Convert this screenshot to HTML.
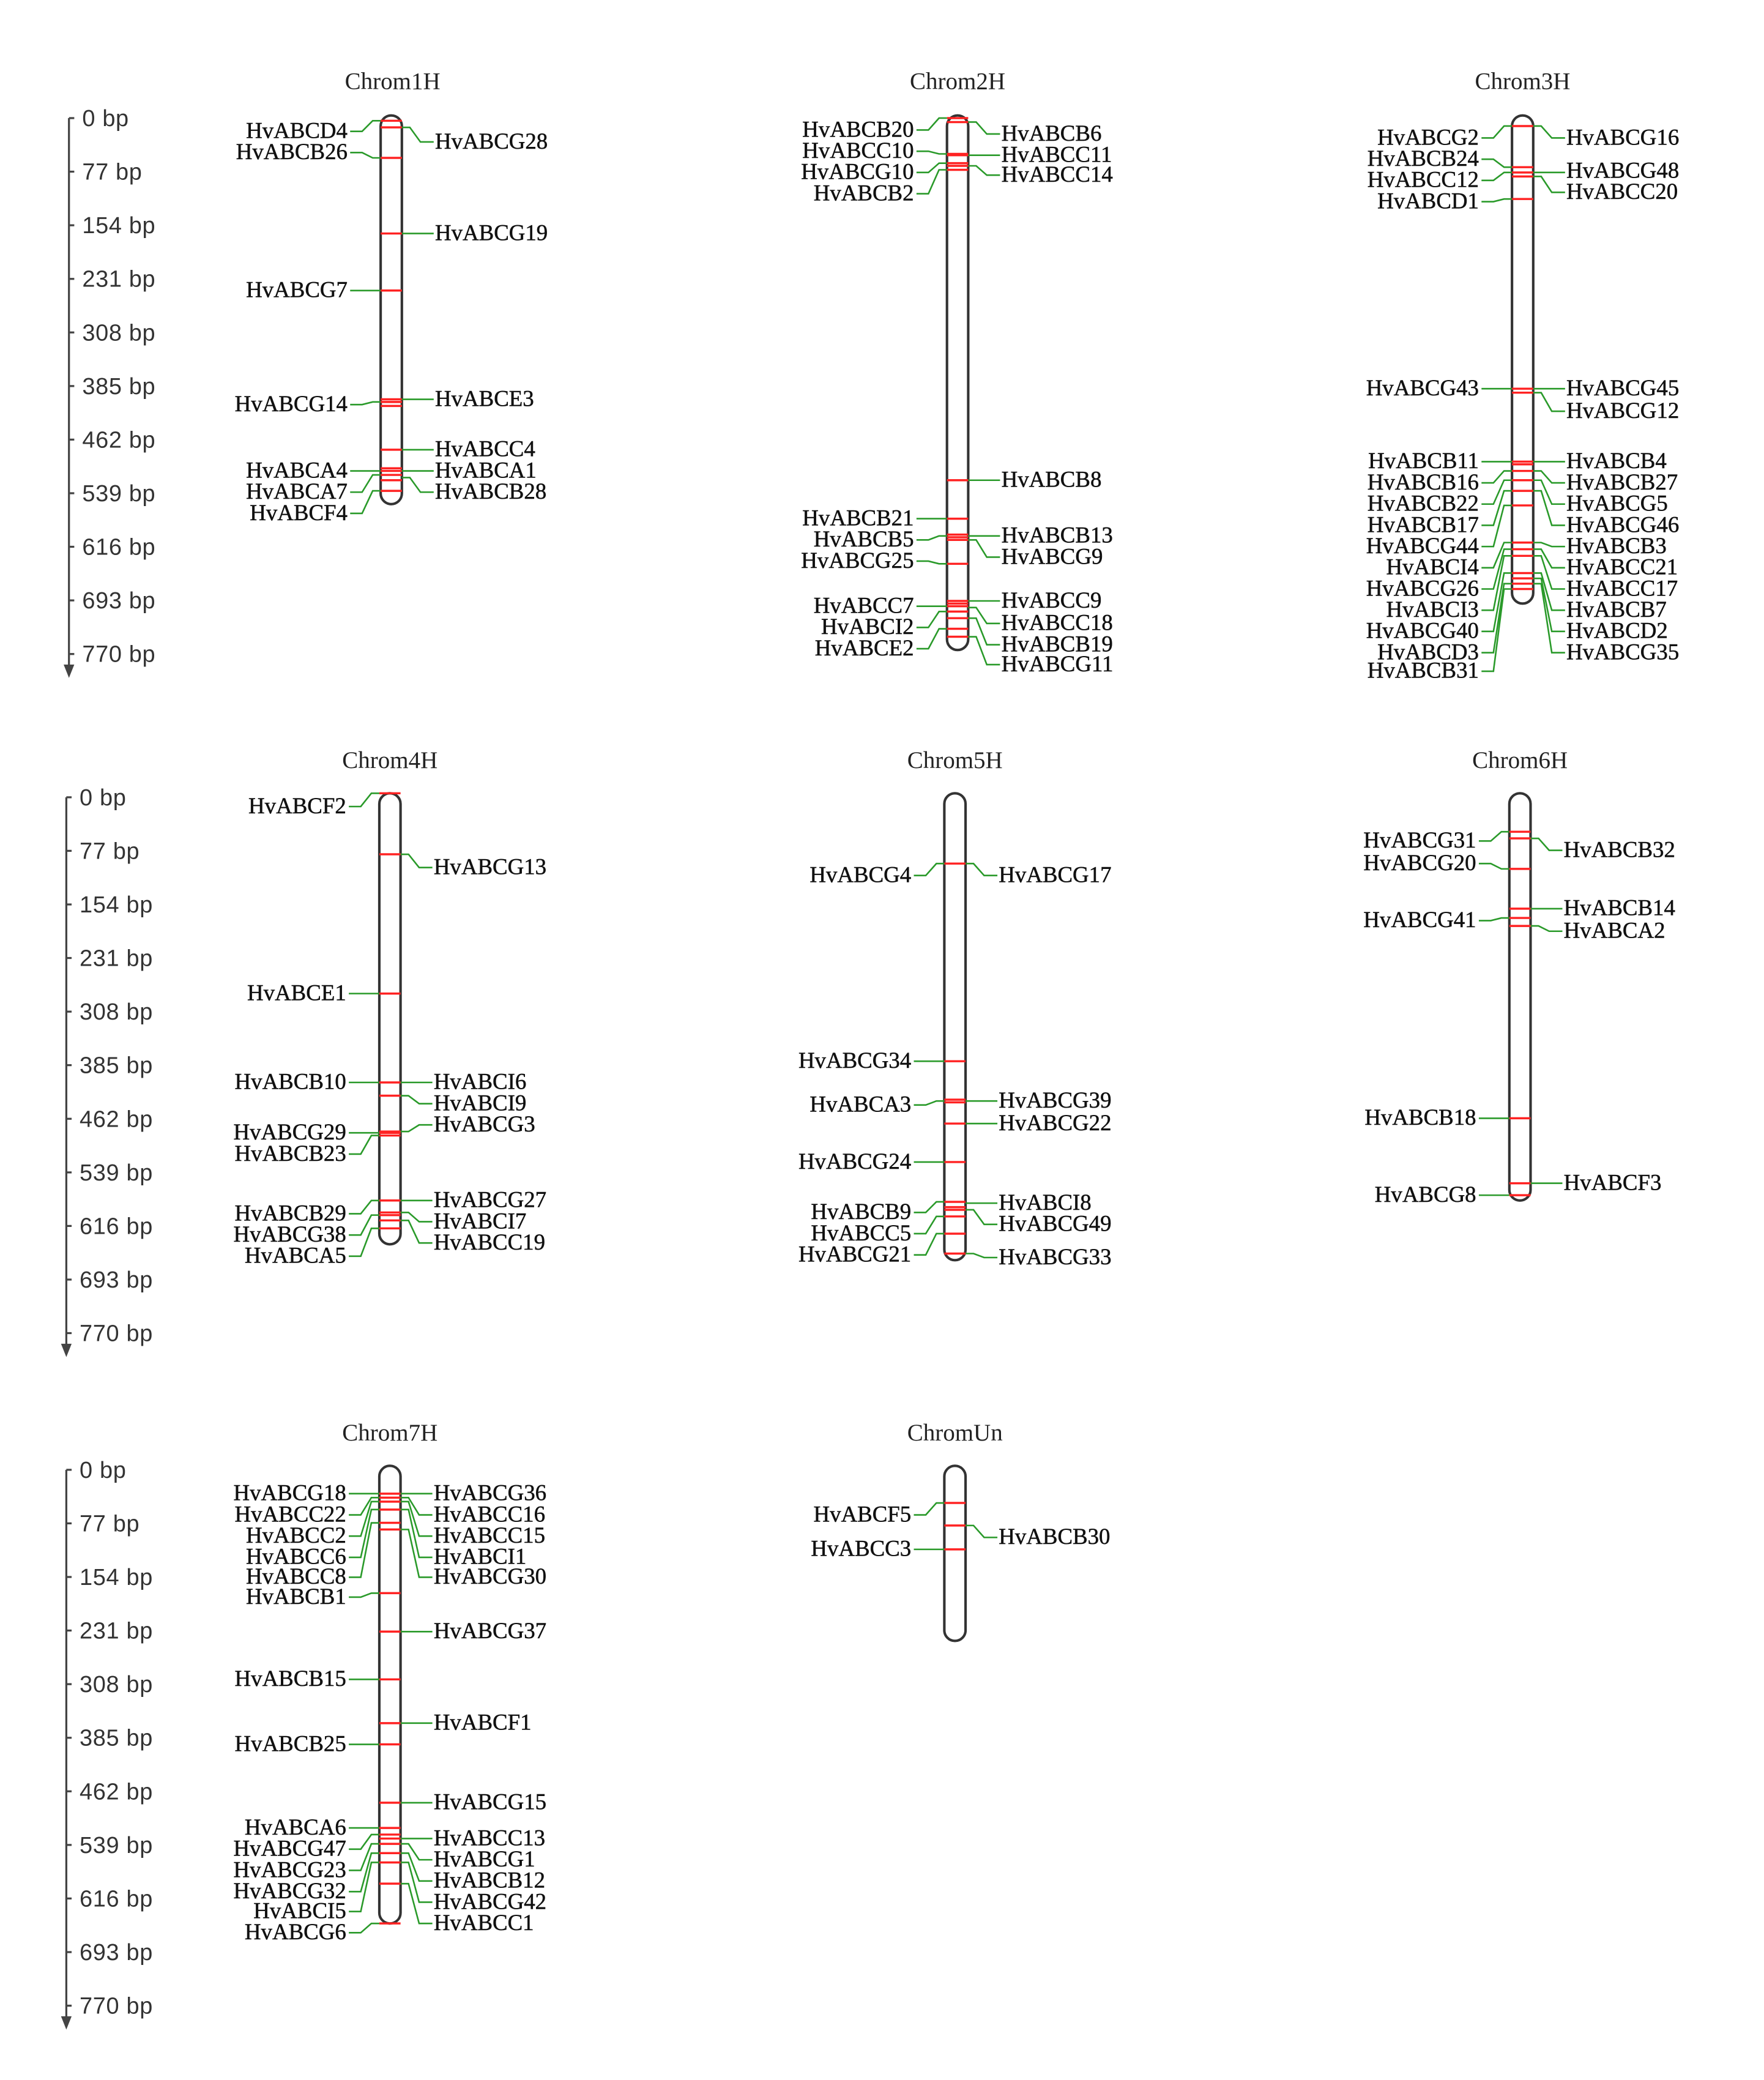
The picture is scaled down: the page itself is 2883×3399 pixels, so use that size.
<!DOCTYPE html>
<html><head><meta charset="utf-8"><style>
html,body{margin:0;padding:0;background:#fff;}
svg{display:block}
.t{font-family:"Liberation Serif",serif;font-size:17px;fill:#111;letter-spacing:0px;stroke:#111;stroke-width:0.25}
.l{text-anchor:end}
.h{font-family:"Liberation Serif",serif;font-size:18px;fill:#222;text-anchor:middle}
.a{font-family:"Liberation Sans",sans-serif;font-size:17.5px;fill:#333;letter-spacing:0.3px}
.c{fill:#fff;stroke:#333;stroke-width:1.9}
.m{stroke:#f22;stroke-width:1.6}
.g{fill:none;stroke:#2a9a2a;stroke-width:1.2}
.x{stroke:#444;stroke-width:1.5;fill:none}
</style></head><body>
<svg width="2883" height="3399" viewBox="0 0 1330 1568" xmlns="http://www.w3.org/2000/svg">
<defs>
<g id="axis">
<path class="x" d="M52,0 V420 M52,0 H56 M52,40.4 H56 M52,80.8 H56 M52,121.2 H56 M52,161.6 H56 M52,202 H56 M52,242.4 H56 M52,282.8 H56 M52,323.2 H56 M52,363.6 H56 M52,404 H56"/>
<path d="M48,412 L52,422 L56,412 Z" fill="#444"/>
<text class="a" x="62" y="6">0 bp</text>
<text class="a" x="62" y="46.4">77 bp</text>
<text class="a" x="62" y="86.8">154 bp</text>
<text class="a" x="62" y="127.2">231 bp</text>
<text class="a" x="62" y="167.6">308 bp</text>
<text class="a" x="62" y="208">385 bp</text>
<text class="a" x="62" y="248.4">462 bp</text>
<text class="a" x="62" y="288.8">539 bp</text>
<text class="a" x="62" y="329.2">616 bp</text>
<text class="a" x="62" y="369.6">693 bp</text>
<text class="a" x="62" y="410">770 bp</text>
</g>
</defs>
<use href="#axis" transform="translate(0,89)"/>
<use href="#axis" transform="translate(-2,601)"/>
<use href="#axis" transform="translate(-2,1108)"/>

<text class="h" x="296" y="67">Chrom1H</text>
<text class="h" x="722" y="67">Chrom2H</text>
<text class="h" x="1148" y="67">Chrom3H</text>
<text class="h" x="294" y="579">Chrom4H</text>
<text class="h" x="720" y="579">Chrom5H</text>
<text class="h" x="1146" y="579">Chrom6H</text>
<text class="h" x="294" y="1086">Chrom7H</text>
<text class="h" x="720" y="1086">ChromUn</text>

<!-- Chrom1H -->
<g transform="translate(295,0)">
<rect class="c" x="-8" y="87" width="16" height="293" rx="8"/>
<path class="m" d="M-8,91H8M-8,96H8M-8,119H8M-8,176H8M-8,219H8M-8,301H8M-8,303H8M-8,306H8M-8,339H8M-8,353H8M-8,355H8M-8,358H8M-8,362H8M-8,370H8"/>
<path class="g" d="M-31,99H-22L-14,91H-8M-31,115H-22L-14,119H-8M-31,219H-8M-31,305H-22L-14,303H-8M-31,355H-8M-31,371H-22L-14,358H-8M-31,387H-22L-14,370H-8M8,96H14L22,107H32M8,176H32M8,301H32M8,339H32M8,355H32M8,360H14L22,371H32"/>
<text class="t l" x="-33" y="104">HvABCD4</text><text class="t l" x="-33" y="120">HvABCB26</text><text class="t l" x="-33" y="224">HvABCG7</text><text class="t l" x="-33" y="310">HvABCG14</text><text class="t l" x="-33" y="360">HvABCA4</text><text class="t l" x="-33" y="376">HvABCA7</text><text class="t l" x="-33" y="392">HvABCF4</text>
<text class="t" x="33" y="112">HvABCG28</text><text class="t" x="33" y="181">HvABCG19</text><text class="t" x="33" y="306">HvABCE3</text><text class="t" x="33" y="344">HvABCC4</text><text class="t" x="33" y="360">HvABCA1</text><text class="t" x="33" y="376">HvABCB28</text>
</g>

<!-- Chrom2H -->
<g transform="translate(722,0)">
<rect class="c" x="-8" y="87" width="16" height="403" rx="8"/>
<path class="m" d="M-8,89H8M-8,92H8M-8,116H8M-8,117H8M-8,123H8M-8,125H8M-8,128H8M-8,362H8M-8,391H8M-8,403H8M-8,405H8M-8,407H8M-8,425H8M-8,453H8M-8,455H8M-8,457H8M-8,461H8M-8,466H8M-8,474H8M-8,480H8"/>
<path class="g" d="M-31,98H-22L-14,89H-8M-31,114H-22L-14,116H-8M-31,130H-22L-14,123H-8M-31,146H-22L-14,128H-8M-31,391H-8M-31,407H-22L-14,404H-8M-31,423H-22L-14,425H-8M-31,457H-8M-31,473H-22L-14,461H-8M-31,489H-22L-14,474H-8M8,92H14L22,101H32M8,117H32M8,125H14L22,132H32M8,362H32M8,404H32M8,407H14L22,420H32M8,453H32M8,458H14L22,470H32M8,466H14L22,486H32M8,480H14L22,501H32"/>
<text class="t l" x="-33" y="103">HvABCB20</text><text class="t l" x="-33" y="119">HvABCC10</text><text class="t l" x="-33" y="135">HvABCG10</text><text class="t l" x="-33" y="151">HvABCB2</text><text class="t l" x="-33" y="396">HvABCB21</text><text class="t l" x="-33" y="412">HvABCB5</text><text class="t l" x="-33" y="428">HvABCG25</text><text class="t l" x="-33" y="462">HvABCC7</text><text class="t l" x="-33" y="478">HvABCI2</text><text class="t l" x="-33" y="494">HvABCE2</text>
<text class="t" x="33" y="106">HvABCB6</text><text class="t" x="33" y="122">HvABCC11</text><text class="t" x="33" y="137">HvABCC14</text><text class="t" x="33" y="367">HvABCB8</text><text class="t" x="33" y="409">HvABCB13</text><text class="t" x="33" y="425">HvABCG9</text><text class="t" x="33" y="458">HvABCC9</text><text class="t" x="33" y="475">HvABCC18</text><text class="t" x="33" y="491">HvABCB19</text><text class="t" x="33" y="506">HvABCG11</text>
</g>

<!-- Chrom3H -->
<g transform="translate(1148,0)">
<rect class="c" x="-8" y="87" width="16" height="368" rx="8"/>
<path class="m" d="M-8,95H8M-8,126H8M-8,130H8M-8,133H8M-8,150H8M-8,293H8M-8,296H8M-8,348H8M-8,350H8M-8,355H8M-8,362H8M-8,370H8M-8,381H8M-8,409H8M-8,414H8M-8,419H8M-8,432H8M-8,436H8M-8,440H8M-8,444H8"/>
<path class="g" d="M-31,104H-22L-14,95H-8M-31,120H-22L-14,126H-8M-31,136H-22L-14,130H-8M-31,152H-22L-14,150H-8M-31,293H-8M-31,348H-8M-31,364H-22L-14,355H-8M-31,380H-22L-14,362H-8M-31,396H-22L-14,370H-8M-31,412H-22L-14,381H-8M-31,428H-22L-14,409H-8M-31,444H-22L-14,414H-8M-31,460H-22L-14,419H-8M-31,476H-22L-14,432H-8M-31,492H-22L-14,440H-8M-31,506H-22L-14,444H-8M8,95H14L22,104H32M8,130H32M8,133H14L22,145H32M8,293H32M8,296H14L22,310H32M8,348H32M8,355H14L22,364H32M8,362H14L22,380H32M8,370H14L22,396H32M8,409H14L22,412H32M8,414H14L22,428H32M8,419H14L22,444H32M8,432H14L22,460H32M8,436H14L22,476H32M8,440H14L22,492H32"/>
<text class="t l" x="-33" y="109">HvABCG2</text><text class="t l" x="-33" y="125">HvABCB24</text><text class="t l" x="-33" y="141">HvABCC12</text><text class="t l" x="-33" y="157">HvABCD1</text><text class="t l" x="-33" y="298">HvABCG43</text><text class="t l" x="-33" y="353">HvABCB11</text><text class="t l" x="-33" y="369">HvABCB16</text><text class="t l" x="-33" y="385">HvABCB22</text><text class="t l" x="-33" y="401">HvABCB17</text><text class="t l" x="-33" y="417">HvABCG44</text><text class="t l" x="-33" y="433">HvABCI4</text><text class="t l" x="-33" y="449">HvABCG26</text><text class="t l" x="-33" y="465">HvABCI3</text><text class="t l" x="-33" y="481">HvABCG40</text><text class="t l" x="-33" y="497">HvABCD3</text><text class="t l" x="-33" y="511">HvABCB31</text>
<text class="t" x="33" y="109">HvABCG16</text><text class="t" x="33" y="134">HvABCG48</text><text class="t" x="33" y="150">HvABCC20</text><text class="t" x="33" y="298">HvABCG45</text><text class="t" x="33" y="315">HvABCG12</text><text class="t" x="33" y="353">HvABCB4</text><text class="t" x="33" y="369">HvABCB27</text><text class="t" x="33" y="385">HvABCG5</text><text class="t" x="33" y="401">HvABCG46</text><text class="t" x="33" y="417">HvABCB3</text><text class="t" x="33" y="433">HvABCC21</text><text class="t" x="33" y="449">HvABCC17</text><text class="t" x="33" y="465">HvABCB7</text><text class="t" x="33" y="481">HvABCD2</text><text class="t" x="33" y="497">HvABCG35</text>
</g>

<!-- Chrom4H -->
<g transform="translate(294,0)">
<rect class="c" x="-8" y="598" width="16" height="340" rx="8"/>
<path class="m" d="M-8,598H8M-8,644H8M-8,749H8M-8,816H8M-8,826H8M-8,853H8M-8,854H8M-8,856H8M-8,905H8M-8,914H8M-8,916H8M-8,920H8M-8,926H8"/>
<path class="g" d="M-31,608H-22L-14,598H-8M-31,749H-8M-31,816H-8M-31,854H-8M-31,870H-22L-14,856H-8M-31,915H-22L-14,905H-8M-31,931H-22L-14,916H-8M-31,947H-22L-14,926H-8M8,644H14L22,654H32M8,816H32M8,826H14L22,832H32M8,853H14L22,848H32M8,905H32M8,914H14L22,921H32M8,920H14L22,937H32"/>
<text class="t l" x="-33" y="613">HvABCF2</text><text class="t l" x="-33" y="754">HvABCE1</text><text class="t l" x="-33" y="821">HvABCB10</text><text class="t l" x="-33" y="859">HvABCG29</text><text class="t l" x="-33" y="875">HvABCB23</text><text class="t l" x="-33" y="920">HvABCB29</text><text class="t l" x="-33" y="936">HvABCG38</text><text class="t l" x="-33" y="952">HvABCA5</text>
<text class="t" x="33" y="659">HvABCG13</text><text class="t" x="33" y="821">HvABCI6</text><text class="t" x="33" y="837">HvABCI9</text><text class="t" x="33" y="853">HvABCG3</text><text class="t" x="33" y="910">HvABCG27</text><text class="t" x="33" y="926">HvABCI7</text><text class="t" x="33" y="942">HvABCC19</text>
</g>

<!-- Chrom5H -->
<g transform="translate(720,0)">
<rect class="c" x="-8" y="598" width="16" height="352" rx="8"/>
<path class="m" d="M-8,651H8M-8,800H8M-8,829H8M-8,831H8M-8,847H8M-8,876H8M-8,906H8M-8,910H8M-8,912H8M-8,917H8M-8,930H8M-8,945H8"/>
<path class="g" d="M-31,660H-22L-14,651H-8M-31,800H-8M-31,833H-22L-14,830H-8M-31,876H-8M-31,914H-22L-14,906H-8M-31,930H-22L-14,917H-8M-31,946H-22L-14,930H-8M8,651H14L22,660H32M8,830H32M8,847H32M8,907H32M8,912H14L22,923H32M8,945H14L22,948H32"/>
<text class="t l" x="-33" y="665">HvABCG4</text><text class="t l" x="-33" y="805">HvABCG34</text><text class="t l" x="-33" y="838">HvABCA3</text><text class="t l" x="-33" y="881">HvABCG24</text><text class="t l" x="-33" y="919">HvABCB9</text><text class="t l" x="-33" y="935">HvABCC5</text><text class="t l" x="-33" y="951">HvABCG21</text>
<text class="t" x="33" y="665">HvABCG17</text><text class="t" x="33" y="835">HvABCG39</text><text class="t" x="33" y="852">HvABCG22</text><text class="t" x="33" y="912">HvABCI8</text><text class="t" x="33" y="928">HvABCG49</text><text class="t" x="33" y="953">HvABCG33</text>
</g>

<!-- Chrom6H -->
<g transform="translate(1146,0)">
<rect class="c" x="-8" y="598" width="16" height="307" rx="8"/>
<path class="m" d="M-8,627H8M-8,632H8M-8,655H8M-8,685H8M-8,692H8M-8,698H8M-8,843H8M-8,892H8M-8,901H8"/>
<path class="g" d="M-31,634H-22L-14,627H-8M-31,651H-22L-14,655H-8M-31,694H-22L-14,692H-8M-31,843H-8M-31,901H-8M8,632H14L22,641H32M8,685H32M8,698H14L22,702H32M8,892H32"/>
<text class="t l" x="-33" y="639">HvABCG31</text><text class="t l" x="-33" y="656">HvABCG20</text><text class="t l" x="-33" y="699">HvABCG41</text><text class="t l" x="-33" y="848">HvABCB18</text><text class="t l" x="-33" y="906">HvABCG8</text>
<text class="t" x="33" y="646">HvABCB32</text><text class="t" x="33" y="690">HvABCB14</text><text class="t" x="33" y="707">HvABCA2</text><text class="t" x="33" y="897">HvABCF3</text>
</g>

<!-- Chrom7H -->
<g transform="translate(294,0)">
<rect class="c" x="-8" y="1105" width="16" height="345" rx="8"/>
<path class="m" d="M-8,1126H8M-8,1129H8M-8,1132H8M-8,1138H8M-8,1148H8M-8,1153H8M-8,1201H8M-8,1230H8M-8,1266H8M-8,1299H8M-8,1315H8M-8,1359H8M-8,1378H8M-8,1383H8M-8,1386H8M-8,1390H8M-8,1397H8M-8,1404H8M-8,1420H8M-8,1450H8"/>
<path class="g" d="M-31,1126H-8M-31,1142H-22L-14,1129H-8M-31,1158H-22L-14,1132H-8M-31,1174H-22L-14,1138H-8M-31,1189H-22L-14,1148H-8M-31,1204H-22L-14,1201H-8M-31,1266H-8M-31,1315H-8M-31,1378H-8M-31,1394H-22L-14,1383H-8M-31,1410H-22L-14,1390H-8M-31,1426H-22L-14,1397H-8M-31,1441H-22L-14,1404H-8M-31,1457H-22L-14,1450H-8M8,1126H32M8,1129H14L22,1142H32M8,1132H14L22,1158H32M8,1138H14L22,1174H32M8,1153H14L22,1189H32M8,1230H32M8,1299H32M8,1359H32M8,1386H32M8,1390H14L22,1402H32M8,1397H14L22,1418H32M8,1404H14L22,1434H32M8,1420H14L22,1450H32"/>
<text class="t l" x="-33" y="1131">HvABCG18</text><text class="t l" x="-33" y="1147">HvABCC22</text><text class="t l" x="-33" y="1163">HvABCC2</text><text class="t l" x="-33" y="1179">HvABCC6</text><text class="t l" x="-33" y="1194">HvABCC8</text><text class="t l" x="-33" y="1209">HvABCB1</text><text class="t l" x="-33" y="1271">HvABCB15</text><text class="t l" x="-33" y="1320">HvABCB25</text><text class="t l" x="-33" y="1383">HvABCA6</text><text class="t l" x="-33" y="1399">HvABCG47</text><text class="t l" x="-33" y="1415">HvABCG23</text><text class="t l" x="-33" y="1431">HvABCG32</text><text class="t l" x="-33" y="1446">HvABCI5</text><text class="t l" x="-33" y="1462">HvABCG6</text>
<text class="t" x="33" y="1131">HvABCG36</text><text class="t" x="33" y="1147">HvABCC16</text><text class="t" x="33" y="1163">HvABCC15</text><text class="t" x="33" y="1179">HvABCI1</text><text class="t" x="33" y="1194">HvABCG30</text><text class="t" x="33" y="1235">HvABCG37</text><text class="t" x="33" y="1304">HvABCF1</text><text class="t" x="33" y="1364">HvABCG15</text><text class="t" x="33" y="1391">HvABCC13</text><text class="t" x="33" y="1407">HvABCG1</text><text class="t" x="33" y="1423">HvABCB12</text><text class="t" x="33" y="1439">HvABCG42</text><text class="t" x="33" y="1455">HvABCC1</text>
</g>

<!-- ChromUn -->
<g transform="translate(720,0)">
<rect class="c" x="-8" y="1105" width="16" height="132" rx="8"/>
<path class="m" d="M-8,1133H8M-8,1150H8M-8,1168H8"/>
<path class="g" d="M-31,1142H-22L-14,1133H-8M-31,1168H-8M8,1150H14L22,1159H32"/>
<text class="t l" x="-33" y="1147">HvABCF5</text><text class="t l" x="-33" y="1173">HvABCC3</text>
<text class="t" x="33" y="1164">HvABCB30</text>
</g>
</svg>
</body></html>
